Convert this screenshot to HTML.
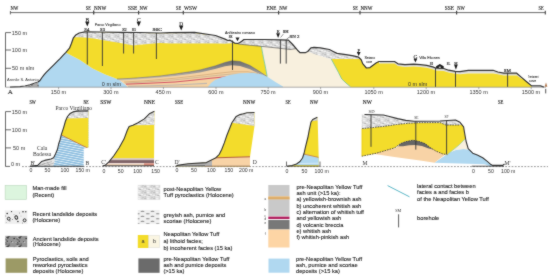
<!DOCTYPE html>
<html><head><meta charset="utf-8">
<style>
html,body{margin:0;padding:0;background:#fff;width:550px;height:277px;overflow:hidden}
svg{display:block;will-change:transform}
.s{font-family:"Liberation Sans",sans-serif;fill:#333}
.r{font-family:"Liberation Serif",serif;fill:#333}
.dir{fill:#222;stroke:#222;stroke-width:0.14}
.lg{font-family:"Liberation Sans",sans-serif;font-size:5.7px;fill:#262626;stroke:#262626;stroke-width:0.12}
</style></head><body>
<svg width="550" height="277" viewBox="0 0 550 277">
<filter id="bl" x="0" y="0" width="550" height="277" filterUnits="userSpaceOnUse" color-interpolation-filters="sRGB"><feConvolveMatrix order="3" kernelMatrix="1 2 1 2 20 2 1 2 1" divisor="32" edgeMode="duplicate" preserveAlpha="true"/></filter>
<g filter="url(#bl)">
<rect width="550" height="277" fill="#fff"/>
<defs>
<pattern id="spk" width="9" height="6" patternUnits="userSpaceOnUse">
<rect width="9" height="6" fill="#d9d9d9"/>
<rect x="3" y="0" width="2.5" height="1.4" fill="#f2f2f2"/>
<rect x="5.6" y="1.8" width="2.4" height="1.2" fill="#f4f4f4"/>
<rect x="0" y="2.6" width="2" height="1.4" fill="#efefef"/>
<rect x="2.6" y="4.2" width="3" height="1.2" fill="#f2f2f2"/>
<rect x="7.2" y="3.4" width="1.6" height="1" fill="#eeeeee"/>
<rect x="0.3" y="0.4" width="1.6" height="0.7" fill="#a4a4a4"/>
<rect x="4.2" y="3.1" width="1.8" height="0.7" fill="#acacac"/>
<rect x="2.4" y="1.9" width="0.7" height="0.7" fill="#b6b6b6"/>
<rect x="6.8" y="0.6" width="0.8" height="0.7" fill="#b0b0b0"/>
<rect x="7.4" y="4.8" width="1.2" height="0.7" fill="#a8a8a8"/>
<rect x="1.2" y="4.6" width="0.8" height="0.7" fill="#b8b8b8"/>
</pattern>
<pattern id="stri" width="20" height="2.3" patternUnits="userSpaceOnUse" patternTransform="rotate(11)">
<rect width="20" height="2.3" fill="#8fbfe0"/>
<rect y="1.55" width="20" height="0.7" fill="#eaf4fa"/>
</pattern>
<pattern id="ash" width="10" height="5" patternUnits="userSpaceOnUse">
<rect width="10" height="5" fill="#f0f0f0"/>
<ellipse cx="2.5" cy="1.2" rx="2" ry="0.55" fill="#7a7a7a"/>
<ellipse cx="7.8" cy="3.7" rx="2" ry="0.55" fill="#808080"/>
</pattern>
<pattern id="anc" width="12" height="9" patternUnits="userSpaceOnUse">
<rect width="12" height="9" fill="#959595"/>
<ellipse cx="5.4" cy="5.0" rx="1.1" ry="0.8" fill="#454545"/>
<ellipse cx="2.2" cy="4.6" rx="0.9" ry="0.8" fill="#3a3a3a"/>
<ellipse cx="5.4" cy="1.3" rx="0.9" ry="0.8" fill="#3a3a3a"/>
<ellipse cx="7.1" cy="3.6" rx="0.8" ry="0.7" fill="#454545"/>
<ellipse cx="7.5" cy="7.5" rx="0.6" ry="0.4" fill="#454545"/>
<ellipse cx="7.2" cy="7.0" rx="0.8" ry="0.6" fill="#454545"/>
<ellipse cx="6.2" cy="5.8" rx="0.8" ry="0.7" fill="#5a5a5a"/>
<ellipse cx="7.9" cy="3.7" rx="0.9" ry="0.9" fill="#3a3a3a"/>
<ellipse cx="8.5" cy="2.8" rx="0.7" ry="0.5" fill="#3a3a3a"/>
<ellipse cx="6.8" cy="1.0" rx="0.7" ry="0.5" fill="#3a3a3a"/>
<ellipse cx="11.5" cy="7.6" rx="0.6" ry="0.4" fill="#3a3a3a"/>
<ellipse cx="5.6" cy="8.8" rx="0.8" ry="0.5" fill="#454545"/>
<ellipse cx="9.3" cy="2.4" rx="0.6" ry="0.5" fill="#5a5a5a"/>
<ellipse cx="9.1" cy="1.1" rx="0.7" ry="0.5" fill="#3a3a3a"/>
<rect x="5.6" y="4.4" width="1.1" height="0.9" fill="#d4d4d4"/>
<rect x="5.4" y="1.7" width="1.1" height="0.9" fill="#d4d4d4"/>
<rect x="5.0" y="3.5" width="0.9" height="0.7" fill="#d4d4d4"/>
<rect x="0.0" y="7.8" width="1.3" height="1.0" fill="#c8c8c8"/>
<rect x="3.6" y="8.0" width="0.8" height="0.7" fill="#dcdcdc"/>
<rect x="12.0" y="5.4" width="1.0" height="0.8" fill="#d4d4d4"/>
<rect x="11.9" y="1.9" width="0.9" height="0.7" fill="#c8c8c8"/>
<rect x="3.9" y="2.7" width="0.7" height="0.6" fill="#d4d4d4"/>
<rect x="2.5" y="5.7" width="0.7" height="0.6" fill="#dcdcdc"/>
</pattern>
<linearGradient id="moundG" x1="0" y1="0" x2="0" y2="1">
<stop offset="0" stop-color="#6c6c6c"/><stop offset="0.45" stop-color="#8e8e8e"/><stop offset="1" stop-color="#d2c6b6"/>
</linearGradient>
</defs>

<!-- ================= TOP SECTION ================= -->
<!-- direction line -->
<g stroke="#444" stroke-width="0.8" fill="none">
<line x1="10.4" y1="12.6" x2="545.3" y2="12.6"/>
<line x1="10.4" y1="11" x2="10.4" y2="14.4"/>
<line x1="93.7" y1="10.6" x2="93.7" y2="14.5" stroke-width="1.3"/>
<line x1="138.6" y1="10.8" x2="138.6" y2="14.6" stroke-width="1.2"/>
<line x1="183.3" y1="10.8" x2="183.3" y2="14.6" stroke-width="1.2"/>
<line x1="278.6" y1="10.8" x2="278.6" y2="14.6" stroke-width="1.2"/>
<line x1="360" y1="10.8" x2="360" y2="14.6" stroke-width="1.2"/>
<line x1="456.6" y1="10.8" x2="456.6" y2="14.6" stroke-width="1.2"/>
<line x1="545.3" y1="10.8" x2="545.3" y2="14.6" stroke-width="1.1"/>
</g>
<g class="r dir" font-size="5.6">
<text x="10.6" y="9.7" textLength="7.6" lengthAdjust="spacingAndGlyphs">NW</text>
<text x="85.8" y="9.7" textLength="4.9" lengthAdjust="spacingAndGlyphs">SE</text>
<text x="94" y="9.7" textLength="12.2" lengthAdjust="spacingAndGlyphs">NNW</text>
<text x="128" y="9.7" textLength="9.2" lengthAdjust="spacingAndGlyphs">SSE</text>
<text x="139.6" y="9.7" textLength="8.0" lengthAdjust="spacingAndGlyphs">NW</text>
<text x="176" y="9.7" textLength="5.1" lengthAdjust="spacingAndGlyphs">SE</text>
<text x="184" y="9.7" textLength="13.1" lengthAdjust="spacingAndGlyphs">WSW</text>
<text x="266.5" y="9.7" textLength="9.9" lengthAdjust="spacingAndGlyphs">ENE</text>
<text x="279.2" y="9.7" textLength="8.1" lengthAdjust="spacingAndGlyphs">NW</text>
<text x="352.8" y="9.7" textLength="5.0" lengthAdjust="spacingAndGlyphs">SE</text>
<text x="360.4" y="9.7" textLength="12.0" lengthAdjust="spacingAndGlyphs">NNW</text>
<text x="444.8" y="9.7" textLength="9.2" lengthAdjust="spacingAndGlyphs">SSE</text>
<text x="457.3" y="9.7" textLength="7.6" lengthAdjust="spacingAndGlyphs">NW</text>
<text x="538.5" y="9.7" textLength="5.0" lengthAdjust="spacingAndGlyphs">SE</text>
</g>

<!-- vertical axis -->
<g stroke="#444" stroke-width="0.8" fill="none">
<polyline points="11,32.6 5.5,32.6 5.5,87.2"/>
<line x1="5.5" y1="50" x2="11" y2="50"/>
<line x1="5.5" y1="68.3" x2="11" y2="68.3"/>
</g>
<g class="s" font-size="5.5">
<text x="11.8" y="34.5">150 m</text>
<text x="11.8" y="51.9">100 m</text>
<text x="12" y="70.2">50 m slm</text>
</g>
<text class="s" x="7" y="80.8" font-size="4" fill="#555" textLength="31.7" lengthAdjust="spacingAndGlyphs">Arenile S. Antonio</text>

<!-- blue pre-NYT -->
<polygon fill="#b0d8f0" points="38,87.2 38,82 39.7,80.8 42,77.5 44,74.8 46.2,72.4 50,68.6 53.8,64.8 57,61.6 60.3,58.3 63,55.4 65.6,52.6 80,60 92.6,68.5 105.3,74.6 114,77.7 118,79 122,82 125.5,84.7 128,87.2"/>
<!-- yellow main -->
<polygon fill="#f3dc2b" points="65.6,52.6 69.5,48.2 71.4,43.5 73.4,37.8 75.8,35 79.2,33 84.9,31.8 120,32.8 160,33.3 200,33.3 225,39.4 232.3,41.6 234.5,43.1 237.4,43.5 239.5,42.7 241.7,41.3 243.9,39.5 263.6,39.5 260.6,42 262,50 263.5,58 265,65 267.2,76.6 258,70.5 250,65.5 240,61.5 232,60.8 225,62.5 215,66 200,70 190,71.8 175,74 160,76 145,77.3 130,78.4 117,79 114,77.7 105.3,74.6 92.6,68.5 80,60"/>
<!-- layer stack -->
<polygon fill="#f6d3a3" points="117,79 130,78.4 145,77.3 160,76 175,74 190,71.8 200,70 215,66 225,62.5 232,60.8 240,61.5 250,65.5 258,70.5 267,76.5 270,79 270,87.2 128,87.2 125.5,84.7 122,82 118,79"/>
<polygon fill="url(#moundG)" points="117,79 130,78.4 145,77.3 160,76 175,74 190,71.8 200,70 215,66 225,62.5 232,60.8 240,61.5 250,65.5 258,70.5 267,76.5 266,77.8 258,73.2 250,69.2 240,66 232,65.2 225,66.2 215,69 200,72.4 190,74 175,76 160,77.6 145,78.8 130,80 120,80.5"/>
<g fill="none" stroke-linejoin="round">
<polyline stroke="#5e5a48" stroke-width="0.5" points="117,79 130,78.4 145,77.3 160,76 175,74 190,71.8 200,70 215,66 225,62.5 232,60.8 240,61.5 250,65.5 258,70.5 267,76.5"/>
<polyline stroke="#cfa472" stroke-width="0.7" points="124,82 145,80.8 175,78.2 200,75.4 215,73.6 232,71.8 248,71.8 258,73.6"/>
<polyline stroke="#bfa98c" stroke-width="0.7" points="125,83.2 145,82 175,79.8 200,77.2 215,75.6 232,74 250,74"/>
<polyline stroke="#c42a50" stroke-width="0.75" points="126,84.2 150,83.2 175,82 190,80.5 210,78.3 232,76.2"/>
<polyline stroke="#bdb6b0" stroke-width="1.1" points="128,86.2 150,85.8 175,85 190,84.2 207,83.4"/>
</g>

<!-- cream incoherent facies -->
<polygon fill="#f8f0de" points="263.6,39.5 281,39.9 288.4,40.2 292.7,44.5 297.5,50.2 300.1,52.7 305.2,52.7 307.7,51.5 310.9,47.9 314.1,47.3 320.4,47.9 329.4,49.5 331.3,59.1 335,66 338.5,72.5 341.7,78.9 346,83 350.3,86.5 350.3,87.2 268,87.2 267.2,76.6 265,65 263.5,58 262,50 260.6,42"/>
<polygon fill="#b0d8f0" points="207.5,87.2 211,83 215,80 222,77.2 230,75 240,73.3 252.6,72.7 262,74.6 267.8,77.1 275.4,82.1 283,86.6 283,87.2"/>
<!-- yellow right part -->
<polygon fill="#f3dc2b" points="331.3,59.1 358.6,58.8 361.2,59.7 362.7,63.6 366.4,68 370,67.6 376.4,62.7 379,61.5 394.5,61.5 398,63.8 405,64.6 413.7,64.2 420.3,64.7 426.8,65.3 432.8,66.9 435.5,68 443.7,68.5 448.6,70.2 455.2,71.3 460,71.6 468.3,70.3 493.1,70.3 497.8,72 503.7,73.2 516.7,73.2 521.5,77.4 527.8,82.7 531.6,85.9 532,87.2 350.3,87.2 350.3,86.5 346,83 341.7,78.9 338.5,72.5 335,66 331.3,59.1"/>
<!-- green lateral contacts -->
<g fill="none" stroke="#6cc49a" stroke-width="0.8">
<polyline points="260.6,42 262,50 263.5,58 265,65 267.2,76.6"/>
<polyline points="331.3,59.1 335,66 338.5,72.5 341.7,78.9 346,83 350.3,86.6"/>
</g>

<!-- grey post-NYT layers -->
<polygon fill="url(#spk)" points="73.4,37.8 75.8,35 79.2,33 84.9,31.8 120,32.8 160,33.3 194.5,33 215.5,36 225,39.4 227.9,40.5 230.1,40.2 232.3,41.6 234.5,43.1 225,43.8 215,43.6 190,43.6 170,43.6 160,42.9 140,44.8 133,45.6 120,43 105,40.6 95,38.8 87.1,37.8 79.5,37.2 73.8,37.2"/>
<polygon fill="url(#spk)" points="239.5,42.7 241.7,41.3 243.9,39.5 263.6,39.5 281,39.9 288.4,40.2 292.7,44.5 296,48.6 290,49.5 280,48.3 265,46.7 239.5,44.2 237.4,43.5"/>
<polyline fill="none" stroke="#4a4a4a" stroke-width="0.6" points="237.4,43.5 239.5,44.2 265,46.7 280,48.3 290,49.5 296,48.6"/>
<polygon fill="url(#spk)" points="307.7,51.5 310.9,47.9 314.1,47.3 320.4,47.9 329.4,49.5 333.2,51.5 337,53.4 345.9,54.6 353.5,55.9 358.6,57.2 360,58.9 339.5,59.1 331.3,59.1 328.1,58.4 320.4,55.9 314.1,54"/>
<polygon fill="#e9e9e6" points="379,61.5 394.5,61.5 398,63.8 405,64.6 413.7,64.2 420.3,64.7 426.8,65.3 432.8,66.9 435.5,68 443.7,68.5 448.6,70.2 455.2,71.3 460,71.6 468.3,70.3 493.1,70.3 497.8,72 503.7,73.2 516.7,73.2 521.5,77.4 523,79 521,78.6 516.7,75.6 503.7,75.6 497.8,74.2 493.1,73.4 468.3,73.4 460,74.2 455.2,73.8 448.6,72.6 443.7,71 435.5,70.4 432.8,69.2 426.8,67.7 420.3,67 413.7,66.6 405,66.9 398,66 394.5,63.6 379,63.6"/>
<polyline fill="none" stroke="#b8b8b0" stroke-width="0.5" points="380,62.6 394.5,62.6 398,65 405,65.8 413.7,65.4 420.3,65.9 426.8,66.5 432.8,68.1 435.5,69.2 443.7,69.8 448.6,71.4 455.2,72.6 460,72.9 468.3,71.9 493.1,71.9 497.8,73.2 503.7,74.4 516.7,74.4 521.5,78.2"/>

<!-- profile line -->
<polyline fill="none" stroke="#333" stroke-width="1.2" stroke-linejoin="round" points="10,87.2 20,86.6 25,86 30,84.8 35,83 38,82 39.7,80.8 42,77.5 44,74.8 46.2,72.4 50,68.6 53.8,64.8 57,61.6 60.3,58.3 63,55.4 65.9,52.3 69.5,48.2 71.4,43.5 73.4,37.8 75.8,35 79.2,33 84.9,31.8 100,32 120,32.3 140,32.5 160,33 170,32.7 194.5,32.4 215.5,35.5 225,39.1 227.9,40.5 230.1,40.2 232.3,41.6 234.5,43.1 237.4,43.5 239.5,42.7 241.7,41.3 243.9,39.5 263.6,39.5 281,39.9 288.4,40.2 292.7,44.5 297.5,50.2 300.1,52.7 305.2,52.7 307.7,51.5 310.9,47.9 314.1,47.3 320.4,47.9 329.4,49.5 333.2,51.5 337,53.4 345.9,54.6 353.5,55.9 358.6,57.2 361.2,59.7 362.7,63.6 366.4,68 370,67.6 376.4,62.7 379,61.5 394.5,61.5 398,63.8 405,64.6 413.7,64.2 420.3,64.7 426.8,65.3 432.8,66.9 435.5,68 443.7,68.5 448.6,70.2 455.2,71.3 460,71.6 468.3,70.3 493.1,70.3 497.8,72 503.7,73.2 516.7,73.2 521.5,77.4 527.8,82.7 531.6,85.9 540.4,85.9 544,87.1"/>
<!-- small landslide wedge left -->
<polygon fill="url(#anc)" points="24,86.3 30,84.9 35,83.2 38,82 39,87.2 26,87.2" opacity="0.8"/>
<!-- baseline -->
<g stroke="#777" stroke-width="0.6"><line x1="58.6" y1="87" x2="58.6" y2="89.2"/><line x1="111" y1="87" x2="111" y2="89.2"/><line x1="163.4" y1="87" x2="163.4" y2="89.2"/><line x1="216" y1="87" x2="216" y2="89.2"/><line x1="268.2" y1="87" x2="268.2" y2="89.2"/><line x1="320.6" y1="87" x2="320.6" y2="89.2"/><line x1="373.8" y1="87" x2="373.8" y2="89.2"/><line x1="426.2" y1="87" x2="426.2" y2="89.2"/><line x1="478.8" y1="87" x2="478.8" y2="89.2"/><line x1="531.2" y1="87" x2="531.2" y2="89.2"/></g>
<line x1="5.5" y1="87.2" x2="546" y2="87.2" stroke="#8a8a8a" stroke-width="0.7"/>

<!-- boreholes -->
<g stroke="#333" stroke-width="0.9">
<line x1="87.3" y1="32" x2="87.3" y2="64.5"/>
<line x1="102.4" y1="32.2" x2="102.4" y2="66"/>
<line x1="123.6" y1="32.4" x2="123.6" y2="53.5"/>
<line x1="133.6" y1="32.5" x2="133.6" y2="53.5"/>
<line x1="156.4" y1="33" x2="156.4" y2="59"/>
<line x1="232.5" y1="40.5" x2="232.5" y2="70"/>
<line x1="280.4" y1="39.9" x2="280.4" y2="63.6"/>
<line x1="286.2" y1="40.1" x2="286.2" y2="63.6"/>
<line x1="435.5" y1="67.6" x2="435.5" y2="86.8"/>
<line x1="455.5" y1="72" x2="455.5" y2="86.8"/>
<line x1="507.6" y1="72.8" x2="507.6" y2="86.8"/>
</g>
<!-- arrows -->
<g fill="#1e1e1e">
<polygon points="85.2,21.7 89.4,21.7 87.3,26.4"/>
<polygon points="136.6,21.7 140.8,21.7 138.7,26.6"/>
<polygon points="179.1,25.8 183.3,25.8 181.2,30.5"/>
<polygon points="276.2,33.3 280.0,33.3 278.1,37.9"/>
<polygon points="356.8,52.1 360.6,52.1 358.7,56.1"/>
<polygon points="413.6,58.7 417.2,58.7 415.4,62.5"/>
<polygon points="454.1,64.7 457.7,64.7 455.9,69.8"/>
<polygon points="235.5,37.5 239.5,37.5 237.5,41.2"/>
<polygon points="436.1,66.2 439.9,64 443.7,66.2 443.7,68.3 436.1,68.3"/>
</g>
<rect x="438.8" y="66.6" width="2" height="1.2" fill="#ddd"/>
<g class="r" font-size="5.4" text-anchor="middle" fill="#1a1a1a" stroke="#1a1a1a" stroke-width="0.15">
<text x="87.3" y="21.8" font-size="5.4">B</text>
<text x="138.7" y="21.8" font-size="5.4">C</text>
<text x="181.2" y="25.8" font-size="5.4">D</text>
<text x="278.1" y="33.4" font-size="4.6">E</text>
<text x="358.7" y="52.2" font-size="4.6">F</text>
<text x="415.4" y="58.6" font-size="5.6">G</text>
<text x="455.9" y="64.7" font-size="4.6">H</text>
</g>
<g stroke="#333" stroke-width="0.5" fill="none">
<polyline points="280.6,37.5 283.5,33.9"/>
<polyline points="286.4,39.3 289.6,36.8"/>
</g>
<g class="r" font-size="5" fill="#1a1a1a" stroke="#1a1a1a" stroke-width="0.18">
<text x="84.3" y="30.8" textLength="5" lengthAdjust="spacingAndGlyphs">S4</text>
<text x="100" y="30.8" textLength="5" lengthAdjust="spacingAndGlyphs">S3</text>
<text x="122.2" y="30.8" textLength="4.6" lengthAdjust="spacingAndGlyphs">S2</text>
<text x="131.8" y="30.8" textLength="4.4" lengthAdjust="spacingAndGlyphs">S1</text>
<text x="152.6" y="30.8" textLength="9.4" lengthAdjust="spacingAndGlyphs">S6C</text>
<text x="228.7" y="38.2" font-size="3.8" textLength="3.6" lengthAdjust="spacingAndGlyphs">SE</text>
<text x="282.8" y="33.2" textLength="5.8" lengthAdjust="spacingAndGlyphs">SH</text>
<text x="289.6" y="38.3" textLength="10" lengthAdjust="spacingAndGlyphs">SN 2</text>
<text x="429.8" y="64.8" textLength="3.2" lengthAdjust="spacingAndGlyphs">SI</text>
<text x="446.8" y="65.4" textLength="3.4" lengthAdjust="spacingAndGlyphs">SL</text>
<text x="503.8" y="71.6" textLength="7.2" lengthAdjust="spacingAndGlyphs">SM</text>
</g>
<g class="s" font-size="3.8" fill="#2a2a2a" stroke="#2a2a2a" stroke-width="0.08">
<text x="94.7" y="25.8" textLength="25.8" lengthAdjust="spacingAndGlyphs">Parco Virgiliano</text>
<text x="225" y="34.4" textLength="30" lengthAdjust="spacingAndGlyphs">Anfiteatro romano</text>
<text x="364.4" y="58.5" textLength="10.8" lengthAdjust="spacingAndGlyphs">Seiano</text>
<text x="366.3" y="63.4" textLength="5.8" lengthAdjust="spacingAndGlyphs">cove</text>
<text x="419.2" y="59.4" textLength="20.7" lengthAdjust="spacingAndGlyphs">Villa Ekonen</text>
<text x="528" y="77.6" textLength="10.4" lengthAdjust="spacingAndGlyphs">Trentaremi</text>
<text x="529" y="82" textLength="7" lengthAdjust="spacingAndGlyphs">cove</text>
</g>
<g class="s" font-size="5.5" fill="#333">
<text x="101.8" y="85.6">0 m slm</text>
<text x="408" y="85.6">0 m slm</text>
</g>
<g class="s" font-size="5.5">
<text x="7.8" y="94.2" class="r" font-size="7" stroke="#333" stroke-width="0.15">A</text>
<text x="50.8" y="94">150 m</text>
<text x="103.2" y="94">300 m</text>
<text x="155.6" y="94">450 m</text>
<text x="208.2" y="94">600 m</text>
<text x="260.4" y="94">750 m</text>
<text x="312.8" y="94">900 m</text>
<text x="364.4" y="94">1050 m</text>
<text x="416.8" y="94">1200 m</text>
<text x="469.4" y="94">1350 m</text>
<text x="521.8" y="94">1500 m</text>
</g>
<polygon points="544.6,86.8 546,82.6 547.4,86.8" fill="#b07850"/>
<rect x="545.2" y="88.8" width="1" height="4.6" fill="#555"/>

<!-- ================= MIDDLE SECTION ================= -->
<defs>
<clipPath id="cB"><polygon points="30,166.4 37.7,165.4 41.5,161.6 44.7,160.4 51,159 53.6,157.8 55.5,154 57.4,149.5 58.7,143.8 60,140 61.4,134.3 63.7,127.3 65.5,121 67.5,116.5 70,113.6 73,111.9 77,111.1 88.4,110.9 88.4,147.6 83.7,148.6 83.7,166.4"/></clipPath>
<clipPath id="cC"><polygon points="102.7,166 105.1,165.3 108.9,161.9 114,155.5 119,148 124,139.1 127.3,130.3 129.1,126.5 132.9,125.2 138,122.7 144.3,118.9 149.3,113.8 154.4,111.2 154,166"/></clipPath>
<clipPath id="cD"><polygon points="175.5,166.5 177.3,165.4 188,163.7 206.4,162.6 210.4,160.6 215.5,158.1 219.3,154.3 221.8,149.2 224.3,142.9 226.9,135.3 229.4,129 231.9,122.7 236.2,116.4 240,114.6 243.3,113.8 247,112.8 254.5,112.5 254.5,126 250,156.8 250,166.5"/></clipPath>
<clipPath id="cE"><polygon points="287,166.3 292,165.5 296.5,164 300,161.5 302.5,158 304,153.5 305.5,146.8 308.2,136 309,131.4 311,122 312.7,119.5 317.6,117 318.7,157.4 318.7,166.4"/></clipPath>
</defs>
<line x1="22" y1="166.6" x2="548" y2="166.6" stroke="#777" stroke-width="0.75" stroke-dasharray="1.8,1.4"/>
<g class="r dir" font-size="5.6">
<text x="29.5" y="103.8" textLength="6.3" lengthAdjust="spacingAndGlyphs">SW</text>
<text x="83.5" y="103.8" textLength="5.1" lengthAdjust="spacingAndGlyphs">NE</text>
<text x="100.3" y="103.8" textLength="11.2" lengthAdjust="spacingAndGlyphs">SSW</text>
<text x="144" y="103.8" textLength="11" lengthAdjust="spacingAndGlyphs">NNE</text>
<text x="174.9" y="103.8" textLength="8.2" lengthAdjust="spacingAndGlyphs">SSE</text>
<text x="243" y="103.8" textLength="12.2" lengthAdjust="spacingAndGlyphs">NNW</text>
<text x="285.5" y="103.8" textLength="5.0" lengthAdjust="spacingAndGlyphs">SE</text>
<text x="310" y="103.8" textLength="8.2" lengthAdjust="spacingAndGlyphs">NW</text>
<text x="362.7" y="103.8" textLength="9.1" lengthAdjust="spacingAndGlyphs">NW</text>
<text x="498" y="103.8" textLength="5.4" lengthAdjust="spacingAndGlyphs">SE</text>
</g>
<!-- axis -->
<g stroke="#444" stroke-width="0.8" fill="none">
<polyline points="11,111.6 5.5,111.6 5.5,166.5"/>
<line x1="5.5" y1="129.8" x2="11" y2="129.8"/>
<line x1="5.5" y1="147.9" x2="11" y2="147.9"/>
<line x1="5.5" y1="166.4" x2="10" y2="166.4"/>
</g>
<g class="s" font-size="5.5">
<text x="11.8" y="113.6">150 m</text>
<text x="11.8" y="131.8">100 m</text>
<text x="13" y="149.9">50 m</text>
<text x="11" y="166.4">0 m</text>
</g>
<!-- B section -->
<g clip-path="url(#cB)">
<rect x="28" y="108" width="62" height="60" fill="url(#stri)"/>
<polygon fill="#f3dc2b" points="58,133.3 88.4,148 90,148 90,110 58,110"/>
<polygon fill="url(#spk)" points="60,119 68,118.6 88.4,117.9 90,117.9 90,108 60,108"/>
<line x1="59" y1="133.8" x2="88.4" y2="148.4" stroke="#d07a2a" stroke-width="0.9"/>
<polygon fill="#e6e6e6" points="37,167 41.5,161.6 44.7,160.4 51,159 53.6,157.8 55,160 53,167"/>
<g stroke="#777" stroke-width="0.4" fill="none"><path d="M42,164.5 L52,161.5 M44,166 L54,163 M47,162 L50,166 M39,165.6 L45,163.4"/></g>
</g>
<polyline fill="none" stroke="#333" stroke-width="1.1" stroke-linejoin="round" points="30,166.3 37.7,165.4 41.5,161.6 44.7,160.4 51,159 53.6,157.8 55.5,154 57.4,149.5 58.7,143.8 60,140 61.4,134.3 63.7,127.3 65.5,121 67.5,116.5 70,113.6 73,111.9 77,111.1 88.4,110.9"/>
<line x1="30" y1="166.3" x2="83.7" y2="166.3" stroke="#333" stroke-width="0.9"/>
<g class="r" font-size="5.6">
<text x="55.5" y="110">Parco Virgiliano</text>
<text x="37" y="149.8">Cala</text>
<text x="32.9" y="156">Badessa</text>
<text x="30.5" y="164.6">B'</text>
<text x="85.6" y="164.6">B</text>
</g>
<g class="s" font-size="5.2">
<text x="29.5" y="172.2">0</text><text x="44.5" y="172.2">50</text><text x="60.6" y="172.2">100</text><text x="75.5" y="172.2">150 m</text>
</g>
<!-- C section -->
<g clip-path="url(#cC)">
<rect x="100" y="110" width="56" height="48.4" fill="#f3dc2b"/>
<polygon fill="url(#spk)" points="100,127 131,125.2 154,125 156,125 156,108 100,108"/>
<rect x="100" y="158.3" width="56" height="1.8" fill="#d3c3bf"/>
<rect x="100" y="160.1" width="56" height="3" fill="#806468"/>
<rect x="100" y="163.1" width="56" height="0.6" fill="#ecdcdc"/>
<rect x="100" y="163.7" width="56" height="2" fill="#f0d2b8"/>
<rect x="144" y="163.3" width="12" height="2.4" fill="#d88a7a"/>
</g>
<line x1="102.7" y1="165.8" x2="154" y2="165.8" stroke="#333" stroke-width="0.9"/>
<polyline fill="none" stroke="#333" stroke-width="1.1" stroke-linejoin="round" points="102.7,166 105.1,165.3 108.9,161.9 114,155.5 119,148 124,139.1 127.3,130.3 129.1,126.5 132.9,125.2 138,122.7 144.3,118.9 149.3,113.8 154.4,111.2"/>
<g class="r" font-size="5.6">
<text x="101.3" y="163.6">C'</text>
<text x="155" y="163.6">C</text>
</g>
<g class="s" font-size="5.2">
<text x="102.4" y="172.6">0</text><text x="117.8" y="172.6">50</text><text x="133.3" y="172.6">100</text><text x="151.3" y="172.6">150</text>
</g>
<!-- D section -->
<g clip-path="url(#cD)">
<rect x="170" y="108" width="90" height="60" fill="#f3dc2b"/>
<polygon fill="url(#spk)" points="230,122.6 254.5,126 256,126 256,108 230,108"/>
<polygon fill="#f8d3a6" points="205,158 215.5,157.7 250,156.6 256,156.6 256,168 205,168"/>
<line x1="215.5" y1="157.8" x2="250" y2="156.8" stroke="#a0402a" stroke-width="0.8"/>
<polygon fill="#b4b4b4" points="170,166 177.3,165 188,163.3 206.4,162.2 212,160.5 212,168 170,168"/>
<polygon fill="#707070" points="170,166.6 177.3,165.8 188,165.2 205,165 205,168 170,168"/>
</g>
<polyline fill="none" stroke="#333" stroke-width="1.1" stroke-linejoin="round" points="175.5,166.5 177.3,165.4 188,163.7 206.4,162.6 210.4,160.6 215.5,158.1 219.3,154.3 221.8,149.2 224.3,142.9 226.9,135.3 229.4,129 231.9,122.7 236.2,116.4 240,114.6 243.3,113.8 247,112.8 254.5,112.5"/>
<line x1="205" y1="166.2" x2="250" y2="166.2" stroke="#6a5040" stroke-width="0.7"/>
<g class="r" font-size="5.6">
<text x="174.5" y="164">D'</text>
<text x="252.7" y="164">D</text>
</g>
<g class="s" font-size="5.2">
<text x="175.5" y="172.2">0</text><text x="191" y="172.2">50</text><text x="207" y="172.2">100</text><text x="224.5" y="172.2">150</text><text x="239" y="172.2">200 m</text>
</g>
<!-- E section -->
<g clip-path="url(#cE)">
<rect x="285" y="115" width="36" height="53" fill="#f3dc2b"/>
<polygon fill="#b0d8f0" points="285,153.6 304,153.8 318.7,157.4 322,157.4 322,165.2 285,165.2"/>
<line x1="296" y1="163.6" x2="319" y2="163.2" stroke="#eaf4fb" stroke-width="0.6"/>
<polygon fill="url(#spk)" points="308,123 312.7,121 318,120.5 318,114 308,114"/>
<line x1="303.5" y1="154" x2="318.7" y2="157.4" stroke="#d07a2a" stroke-width="0.8"/>
</g>
<polyline fill="none" stroke="#333" stroke-width="1.1" stroke-linejoin="round" points="287,166.3 292,165.5 296.5,164 300,161.5 302.5,158 304,153.5 305.5,146.8 308.2,136 309,131.4 311,122 312.7,119.5 317.3,117.2"/>
<g stroke="#333" stroke-width="0.7" fill="none">
<polyline points="286.5,161.5 286.5,166.2 320,166.2 320,161.5"/>
</g>
<g class="s" font-size="5.2">
<text x="285.4" y="172.6">0</text><text x="301.5" y="172.6">50</text><text x="314.5" y="172.6">100 m</text>
</g>
<!-- M section -->
<defs>
<clipPath id="cM"><polygon points="361.8,114.5 383.4,115 390.5,116.8 397.6,118.6 405.8,120.4 414.1,121.3 440,121 455.5,120 460,122.3 463.6,126.8 464.5,132.3 466,141 468.2,148.6 472.7,153.2 477.3,155 482.7,157.7 487.3,161.4 490.9,164.6 492.7,165.4 491.8,166.5 361.8,166.5"/></clipPath>
</defs>
<g clip-path="url(#cM)">
<polygon fill="#f8d3a6" points="360,150 395,148.6 402.7,143.2 409,141 416.4,140.5 423.6,142.3 431,145 446.4,153.7 440,158.6 434.5,162.8 421.8,160.8 394.5,157 374.5,154 360,156"/>
<polygon fill="#b0d8f0" points="434.5,162.8 449.6,152.5 456.4,149.8 463.2,149.1 470,149.5 475,152 495,168 484.5,164.2 460,163.6"/>
<polygon fill="#f8f0de" points="446.4,153.7 449.6,152.5 456.4,149.8 463.2,149.1 470,149.5 470,135 463.2,140.9"/>
<polygon fill="#f3dc2b" points="360,128.8 372.7,127.5 384.6,126.3 396.4,124.5 408.2,123.3 420,122.7 440,122.6 446,125 460,125 470,125 470,134 463.2,140.9 459.1,145 452.3,150.5 447.5,154.6 442.7,153.9 435.9,151.1 430.5,147.7 425,143.6 419.6,141.6 412.7,140.2 405.9,141.6 400.5,143.6 395,147.7 376.4,153.2 361.8,156.2 360,156.2"/>
<polygon fill="#666" points="398,146.3 400.5,143.6 405.9,141.6 412.7,140.2 419.6,141.6 425,143.6 430.5,147.7 433,149.4 428,148.2 422,146 415,145 409,145.2 403,146.2"/>
<polygon fill="url(#spk)" points="360,110 470,110 470,125 460,125 446,125 440,122.6 420,122.7 408.2,123.3 396.4,124.5 384.6,126.3 372.7,127.5 360,128.8"/>
</g>
<g fill="none" stroke="#333" stroke-width="0.8" stroke-dasharray="1.6,1">
<polyline points="361.8,156.2 376.4,153.2 395,147.7 400.5,143.6 405.9,141.6 412.7,140.2 419.6,141.6 425,143.6 430.5,147.7 435.9,151.1 442.7,153.9 447.5,154.6"/>
<polyline points="362.1,128.6 372.7,127.5 384.6,126.3 396.4,124.5 408.2,123.3 420,122.7 440,122.6 446,125 460,125"/>
</g>
<line x1="362" y1="128.6" x2="362" y2="156.2" stroke="#e6c800" stroke-width="0.6"/>
<polyline points="447.5,154.6 452.3,150.5 459.1,145 463.2,140.9 465,139" fill="none" stroke="#8fd0b0" stroke-width="0.7"/>
<polyline fill="none" stroke="#333" stroke-width="1.1" stroke-linejoin="round" points="364.5,114.5 383.4,115 390.5,116.8 397.6,118.6 405.8,120.4 414.1,121.3 440,121 455.5,120 460,122.3 463.6,126.8 464.5,132.3 466,141 468.2,148.6 472.7,153.2 477.3,155 482.7,157.7 487.3,161.4 490.9,164.6 492.7,165.4 502.7,165.4 504.5,164"/>
<g stroke="#333" stroke-width="0.9">
<line x1="371" y1="114.8" x2="371" y2="146.8"/>
<line x1="415.8" y1="121.3" x2="415.8" y2="149.6"/>
<line x1="446.6" y1="120.3" x2="446.6" y2="154"/>
</g>
<line x1="471.8" y1="166.2" x2="504" y2="166.2" stroke="#333" stroke-width="0.8"/>
<g class="r" font-size="4.8" fill="#222">
<text x="368.6" y="112.9" textLength="5.9" lengthAdjust="spacingAndGlyphs">SD</text>
<text x="414.3" y="119.3" textLength="4.2" lengthAdjust="spacingAndGlyphs">SE</text>
<text x="444.4" y="118.4" textLength="4" lengthAdjust="spacingAndGlyphs">SF</text>
</g>
<g class="r" font-size="5.6">
<text x="362.5" y="165.2">M</text>
<text x="504.5" y="165.2">M'</text>
</g>
<g class="s" font-size="5.2">
<text x="472" y="172.6">0</text><text x="488" y="172.6">50</text><text x="501" y="172.6">100 m</text>
</g>

<!-- ================= LEGEND ================= -->
<!-- col 1 -->
<rect x="5.1" y="185.3" width="21.6" height="14.4" fill="#dcf5de" stroke="#b4d0b6" stroke-width="0.5"/>
<text class="lg" x="32.4" y="190.4">Man-made fill</text>
<text class="lg" x="32.4" y="196.6">(Recent)</text>

<rect x="4.8" y="210.4" width="22.6" height="13.5" fill="#efefef"/>
<g fill="none" stroke="#2a2a2a" stroke-width="0.95">
<circle cx="8.7" cy="218.7" r="1.45"/><ellipse cx="16.3" cy="217.5" rx="1.3" ry="1.75" transform="rotate(-30 16.3 217.5)"/><circle cx="24.6" cy="220.3" r="1.45"/>
</g>
<g fill="#333"><circle cx="7.2" cy="213.5" r="0.8"/><circle cx="11.5" cy="211.6" r="0.7"/><circle cx="23" cy="211.8" r="0.8"/><circle cx="25.8" cy="211.8" r="0.7"/><circle cx="17.9" cy="221.5" r="0.8"/><circle cx="9.9" cy="220.8" r="0.6"/><circle cx="19.5" cy="213" r="0.45"/><circle cx="12.5" cy="219.5" r="0.4"/><circle cx="22.5" cy="223" r="0.4"/><circle cx="5.8" cy="216" r="0.4"/><circle cx="14" cy="214.5" r="0.35"/><circle cx="21" cy="216" r="0.35"/><circle cx="6.2" cy="222.5" r="0.35"/></g>
<text class="lg" x="32.4" y="216">Recent landslide deposits</text>
<text class="lg" x="32.4" y="222">(Holocene)</text>

<rect x="5.3" y="235.9" width="21.9" height="11.2" fill="url(#anc)"/>
<text class="lg" x="32.8" y="240.5">Ancient landslide deposits</text>
<text class="lg" x="32.8" y="246.3">(Holocene)</text>

<rect x="5.6" y="258.4" width="21.6" height="14.4" fill="#9c9a66"/>
<text class="lg" x="32.8" y="260.8">Pyroclastics, soils and</text>
<text class="lg" x="32.8" y="267">reworked pyroclastics</text>
<text class="lg" x="32.8" y="273">deposits (Holocene)</text>

<!-- col 2 -->
<rect x="137.8" y="184.9" width="22.4" height="14.9" fill="url(#spk)"/>
<text class="lg" x="163.6" y="190.6">post-Neapolitan Yellow</text>
<text class="lg" x="163.6" y="197">Tuff pyroclastics (Holocene)</text>

<rect x="137.8" y="210" width="21.8" height="13.9" fill="url(#ash)"/>
<text class="lg" x="163.6" y="216.6">greyish ash, pumice and</text>
<text class="lg" x="163.6" y="222.5">scoriae (Holocene)</text>

<rect x="137.8" y="235" width="10.9" height="13" fill="#f3dc2b"/>
<rect x="148.7" y="235.2" width="11" height="12.6" fill="#faf5e2" stroke="#d6d6d6" stroke-width="0.4"/>
<text class="s" x="141.6" y="242.6" font-size="5.5" fill="#444">a</text>
<text class="s" x="153.1" y="242.6" font-size="5.5" fill="#444">b</text>
<text class="lg" x="163.4" y="236.4">Neapolitan Yellow Tuff</text>
<text class="lg" x="163.4" y="243">a) lithoid facies;</text>
<text class="lg" x="163.4" y="249.5">b) incoherent facies (15 ka)</text>

<rect x="138.4" y="258.4" width="21.2" height="14.4" fill="#6b6b6b"/>
<text class="lg" x="163.4" y="261.3">pre-Neapolitan Yellow Tuff</text>
<text class="lg" x="163.4" y="267">ash and pumice deposits</text>
<text class="lg" x="163.4" y="272.6">(&gt;15 ka)</text>

<!-- col 3 column -->
<rect x="268.3" y="185" width="21.2" height="11.5" fill="#c9c9c9"/>
<rect x="268.3" y="196.2" width="21.2" height="3.8" fill="#e6bc80"/><rect x="268.3" y="197.2" width="21.2" height="1.8" fill="#dcac68"/>
<rect x="268.3" y="199.5" width="21.2" height="16.5" fill="#c9c9c9"/>
<rect x="268.3" y="216" width="21.2" height="0.8" fill="#f4e8ee"/>
<rect x="268.3" y="216.6" width="21.2" height="2.4" fill="#b0205e"/>
<rect x="268.3" y="219" width="21.2" height="1" fill="#f8f0f4"/>
<rect x="268.3" y="220" width="21.2" height="9.5" fill="#787878"/>
<rect x="268.3" y="229.5" width="21.2" height="18" fill="#fdd5a5"/>
<g class="s" font-size="3" fill="#666">
<text x="264.5" y="199.6">a</text><text x="264.5" y="210.6">b</text><text x="264.5" y="217.2">c</text><text x="264.5" y="220.4">d</text><text x="264.5" y="223.6">e</text><text x="264.8" y="234.8">f</text>
</g>
<text class="lg" x="296.4" y="188.6">pre-Neapolitan Yellow Tuff</text>
<text class="lg" x="296.4" y="194.9">ash unit (&gt;15 ka):</text>
<text class="lg" x="296.4" y="201.2">a) yellowish-brownish ash</text>
<text class="lg" x="296.4" y="207.8">b) uncoherent whitish ash</text>
<text class="lg" x="296.4" y="214.2">c) alternation of whitish tuff</text>
<text class="lg" x="296.4" y="220.4">and yellowish ash</text>
<text class="lg" x="296.4" y="226.6">d) volcanic breccia</text>
<text class="lg" x="296.4" y="232.9">e) whitish ash</text>
<text class="lg" x="296.4" y="238.9">f) whitish-pinkish ash</text>

<rect x="268.5" y="258.6" width="21" height="14.1" fill="#b0d8f0"/>
<text class="lg" x="296" y="261">pre-Neapolitan Yellow Tuff</text>
<text class="lg" x="296" y="267.3">ash, pumice and scoriae</text>
<text class="lg" x="296" y="273.4">deposits (&gt;15 ka)</text>

<!-- col 4 -->
<line x1="387.6" y1="185.6" x2="409.5" y2="196.8" stroke="#48aec0" stroke-width="0.9"/>
<text class="lg" x="417.1" y="188">lateral contact between</text>
<text class="lg" x="417.1" y="194">facies a and facies b</text>
<text class="lg" x="417.1" y="200.6">of the Neapolitan Yellow Tuff</text>
<text class="r" x="395.2" y="211.6" font-size="5" textLength="6" lengthAdjust="spacingAndGlyphs" fill="#444">SM</text>
<line x1="398.6" y1="214.3" x2="398.6" y2="227.4" stroke="#333" stroke-width="0.8"/>
<text class="lg" x="417.1" y="220.2">borehole</text>
</g>
</svg>
</body></html>
